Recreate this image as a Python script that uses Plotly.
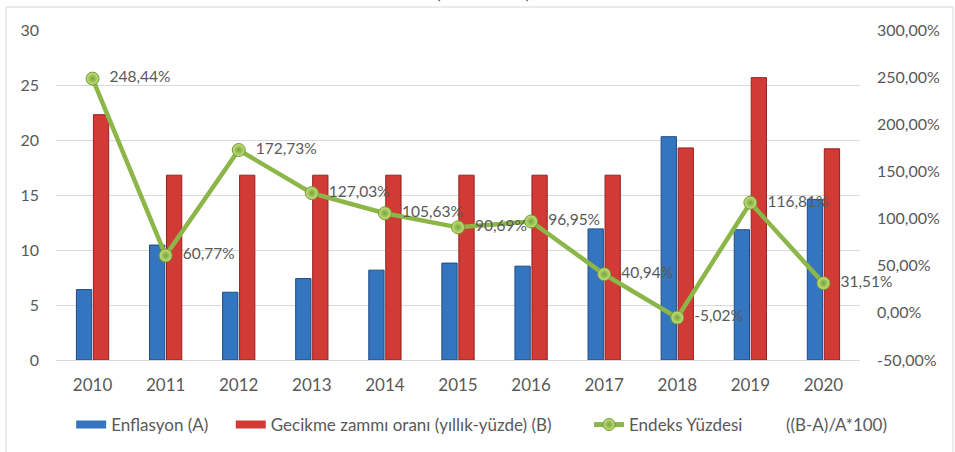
import plotly.graph_objects as go

years = ["2010", "2011", "2012", "2013", "2014", "2015", "2016", "2017", "2018", "2019", "2020"]
enflasyon = [6.40, 10.45, 6.16, 7.40, 8.17, 8.81, 8.53, 11.92, 20.30, 11.84, 14.60]
gecikme = [22.30, 16.80, 16.80, 16.80, 16.80, 16.80, 16.80, 16.80, 19.28, 25.67, 19.20]
endeks = [248.44, 60.77, 172.73, 127.03, 105.63, 90.69, 96.95, 40.94, -5.02, 116.81, 31.51]
endeks_labels = ["\u00a0\u00a0" + f"{v:.2f}".replace(".", ",") + "%" for v in endeks]

left_ticks = [0, 5, 10, 15, 20, 25, 30]
right_ticks = [-50, 0, 50, 100, 150, 200, 250, 300]
right_tick_labels = [f"{v:.2f}".replace(".", ",") + "%" for v in right_ticks]

FONT = "Lato, 'Open Sans', Arial, sans-serif"
GRAY = "#595959"
BLUE = "#3475C0"
RED = "#D23A35"
GREEN = "#8CB648"
NB = "\u00a0"

fig = go.Figure()
fig.add_trace(go.Bar(
    x=years, y=enflasyon, name="Enflasyon (A)", showlegend=False,
    marker=dict(color=BLUE, line=dict(color="#1E4B85", width=1)),
))
fig.add_trace(go.Bar(
    x=years, y=gecikme, name="Gecikme zammı oranı (yıllık-yüzde) (B)", showlegend=False,
    marker=dict(color=RED, line=dict(color="#962222", width=1)),
))
fig.add_trace(go.Scatter(
    x=years, y=endeks, yaxis="y2", showlegend=False,
    name="Endeks Yüzdesi",
    mode="lines+markers+text",
    line=dict(color=GREEN, width=4.5),
    marker=dict(size=13, color="#C8E27E", line=dict(color="#6F9A2E", width=1),
                gradient=dict(type="radial", color="#76A33A")),
    text=endeks_labels, textposition="middle right",
    textfont=dict(family=FONT, size=15.5, color=GRAY),
    cliponaxis=False,
))
# legend entries
fig.add_trace(go.Scatter(x=[None], y=[None], mode="lines", name="Enflasyon (A)" + NB * 4,
                         line=dict(color=BLUE, width=8), legend="legend"))
fig.add_trace(go.Scatter(x=[None], y=[None], mode="lines",
                         name="Gecikme zammı oranı (yıllık-yüzde) (B)",
                         line=dict(color=RED, width=8), legend="legend"))
fig.add_trace(go.Scatter(x=[None], y=[None], mode="lines+markers", yaxis="y2",
                         name="Endeks Yüzdesi" + NB * 10 + "((B-A)/A*100)",
                         line=dict(color=GREEN, width=5), legend="legend2",
                         marker=dict(size=12, color="#C8E27E", line=dict(color="#6F9A2E", width=1),
                                     gradient=dict(type="radial", color="#76A33A"))))

legend_common = dict(orientation="h", xref="container", xanchor="left",
                     y=-0.197, yanchor="middle",
                     font=dict(family=FONT, size=17, color=GRAY), traceorder="normal",
                     itemwidth=30, bgcolor="rgba(0,0,0,0)")

fig.update_layout(
    width=955, height=452,
    margin=dict(l=56, r=95, t=30, b=92, autoexpand=False),
    paper_bgcolor="white", plot_bgcolor="white",
    barmode="group", bargap=0.535, bargroupgap=0.1,
    font=dict(family=FONT, size=16, color=GRAY),
    separators=",.",
    showlegend=True,
    legend=dict(x=0.0745, **legend_common),
    legend2=dict(x=0.6168, **legend_common),
    xaxis=dict(type="category", range=[-0.5, 10.5], showgrid=False, showline=True,
               linecolor="#D9D9D9", ticks="", ticklabelstandoff=10, automargin=False,
               tickfont=dict(size=17, color=GRAY)),
    yaxis=dict(range=[0, 30], tickvals=left_ticks, showgrid=True, gridcolor="#D9D9D9",
               zeroline=False, ticks="", ticklabelstandoff=16, automargin=False,
               tickfont=dict(size=16, color=GRAY)),
    yaxis2=dict(range=[-50, 300], tickvals=right_ticks, ticktext=right_tick_labels,
                overlaying="y", side="right", automargin=False,
                showgrid=False, zeroline=False,
                ticks="", ticklabelstandoff=16, tickfont=dict(size=16, color=GRAY)),
    shapes=[dict(type="rect", xref="paper", yref="paper",
                 x0=-0.0622, x1=1.1157, y0=-0.30, y1=1.0697,
                 line=dict(color="#D9D9D9", width=1), layer="below")],
    annotations=[dict(text="(2010-2020)", xref="paper", yref="paper",
                      x=0.531, y=1.0758, xanchor="center", yanchor="bottom",
                      showarrow=False, font=dict(family=FONT, size=17, color=GRAY))],
)

fig.write_html("out.html", config={"displayModeBar": False},
               post_script="document.body.style.margin='0';document.body.style.overflow='hidden';")
